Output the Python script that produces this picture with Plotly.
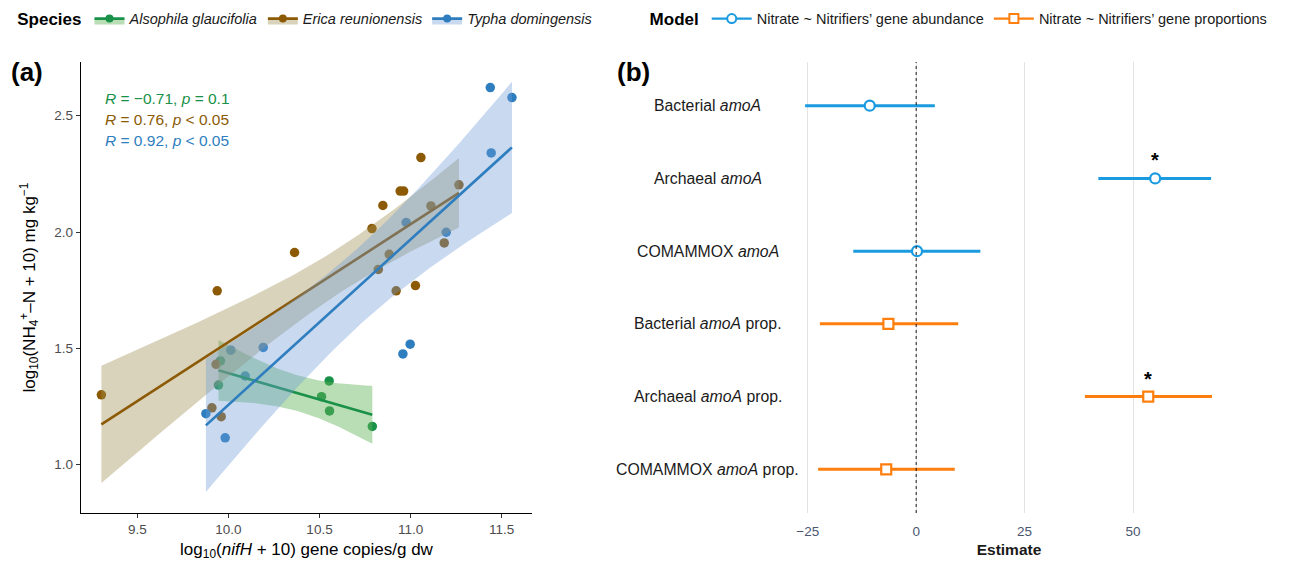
import math
import numpy as np
import plotly.graph_objects as go

FONT = "Liberation Sans, Arial, Helvetica, sans-serif"

# ---------------- Panel (a) data ----------------
species = ["Alsophila glaucifolia", "Erica reunionensis", "Typha domingensis"]
als_x = [9.956, 9.945, 10.511, 10.553, 10.555, 10.790]
als_y = [1.446, 1.342, 1.292, 1.360, 1.231, 1.164]
eri_x = [9.302, 9.909, 9.932, 9.938, 9.960, 10.363, 10.788, 10.823, 10.848,
         10.883, 10.921, 10.943, 10.962, 11.027, 11.057, 11.112, 11.185, 11.266]
eri_y = [1.300, 1.244, 1.431, 1.747, 1.206, 1.912, 2.015, 1.839, 2.114,
         1.904, 1.747, 2.176, 2.176, 1.770, 2.320, 2.112, 1.953, 2.203]
typ_x = [9.876, 9.982, 10.013, 10.092, 10.191, 10.976, 11.196, 10.958, 10.998,
         11.443, 11.438, 11.557]
typ_y = [1.219, 1.115, 1.492, 1.381, 1.504, 2.041, 1.999, 1.476, 1.518,
         2.340, 2.621, 2.578]
r_labels = ["<i>R</i> = \u22120.71, <i>p</i> = 0.1",
            "<i>R</i> = 0.76, <i>p</i> &lt; 0.05",
            "<i>R</i> = 0.92, <i>p</i> &lt; 0.05"]
x_ticks_a = [9.5, 10.0, 10.5, 11.0, 11.5]
y_ticks_a = [1.0, 1.5, 2.0, 2.5]

# ---------------- Panel (b) data ----------------
terms = ["Bacterial amoA", "Archaeal amoA", "COMAMMOX amoA",
         "Bacterial amoA prop.", "Archaeal amoA prop.", "COMAMMOX amoA prop."]
term_labels = ["Bacterial <i>amoA</i>", "Archaeal <i>amoA</i>", "COMAMMOX <i>amoA</i>",
               "Bacterial <i>amoA</i> prop.", "Archaeal <i>amoA</i> prop.",
               "COMAMMOX <i>amoA</i> prop."]
models = ["Nitrate ~ Nitrifiers\u2019 gene abundance", "Nitrate ~ Nitrifiers\u2019 gene proportions"]
abund_est = [-10.7, 55.1, 0.2]
abund_lo = [-25.6, 42.0, -14.5]
abund_hi = [4.3, 68.0, 14.8]
abund_sig = [False, True, False]
prop_est = [-6.4, 53.5, -6.9]
prop_lo = [-22.2, 38.9, -22.6]
prop_hi = [9.7, 68.2, 8.9]
prop_sig = [False, True, False]
x_ticks_b = [-25, 0, 25, 50]

# ---------------- styles ----------------
COLS = ["#199148", "#8c5a05", "#2e7ebf"]
FILLS = ["rgba(100,180,90,0.45)", "rgba(160,145,85,0.40)", "rgba(110,155,215,0.38)"]
BLUE_B = "#1a9be0"
ORANGE_B = "#ff7f0e"


def t_quantile(p, df):
    const = math.exp(math.lgamma((df + 1) / 2) - math.lgamma(df / 2)) / math.sqrt(df * math.pi)

    def cdf(t):
        xs = np.linspace(0, t, 20001)
        pdf = const * (1 + xs ** 2 / df) ** (-(df + 1) / 2)
        return 0.5 + np.trapezoid(pdf, xs)

    lo, hi = 0.0, 50.0
    for _ in range(60):
        mid = (lo + hi) / 2
        if cdf(mid) < p:
            lo = mid
        else:
            hi = mid
    return (lo + hi) / 2


def lm_band(x, y, npts=80):
    x = np.asarray(x, float)
    y = np.asarray(y, float)
    n = len(x)
    b, a = np.polyfit(x, y, 1)
    resid = y - (a + b * x)
    s = math.sqrt(np.sum(resid ** 2) / (n - 2))
    sxx = np.sum((x - x.mean()) ** 2)
    xs = np.linspace(x.min(), x.max(), npts)
    yh = a + b * xs
    se = s * np.sqrt(1 / n + (xs - x.mean()) ** 2 / sxx)
    t = t_quantile(0.975, n - 2)
    return xs, yh, yh - t * se, yh + t * se


groups = [(als_x, als_y), (eri_x, eri_y), (typ_x, typ_y)]

fig = go.Figure()

# points first (ribbons drawn over them)
for (gx, gy), c in zip(groups, COLS):
    fig.add_trace(go.Scatter(x=gx, y=gy, mode="markers",
                             marker=dict(color=c, size=9.5, line=dict(width=0)),
                             showlegend=False, hoverinfo="skip", xaxis="x", yaxis="y"))

# ribbon + line per group
for (gx, gy), c, f in zip(groups, COLS, FILLS):
    xs, yh, lo, hi = lm_band(gx, gy)
    fig.add_trace(go.Scatter(x=np.concatenate([xs, xs[::-1]]),
                             y=np.concatenate([hi, lo[::-1]]),
                             mode="lines", fill="toself", fillcolor=f,
                             line=dict(width=0), showlegend=False, hoverinfo="skip",
                             xaxis="x", yaxis="y"))
    fig.add_trace(go.Scatter(x=xs, y=yh, mode="lines", line=dict(color=c, width=2.6),
                             showlegend=False, hoverinfo="skip", xaxis="x", yaxis="y"))

# legend entries for species
for name, c, f in zip(species, COLS, FILLS):
    fig.add_trace(go.Scatter(x=[None], y=[None], mode="lines+markers",
                             fill="toself", fillcolor=f,
                             line=dict(color=c, width=2.6),
                             marker=dict(color=c, size=8),
                             name="<i>" + name + "</i>", legend="legend",
                             xaxis="x", yaxis="y"))

# ---------------- Panel (b) traces ----------------
specs = [
    (terms[:3], abund_est, abund_lo, abund_hi, BLUE_B, "circle", models[0]),
    (terms[3:], prop_est, prop_lo, prop_hi, ORANGE_B, "square", models[1]),
]
for cats, est, lo, hi, c, sym, mname in specs:
    fig.add_trace(go.Scatter(
        x=est, y=cats, mode="markers",
        marker=dict(symbol=sym, size=10, color="white", line=dict(color=c, width=2.2)),
        error_x=dict(type="data", symmetric=False,
                     array=[h - e for h, e in zip(hi, est)],
                     arrayminus=[e - l for e, l in zip(est, lo)],
                     color=c, thickness=3, width=0),
        showlegend=False, hoverinfo="skip", xaxis="x2", yaxis="y2"))
    fig.add_trace(go.Scatter(x=[None], y=[None], mode="lines+markers",
                             line=dict(color=c, width=2.2),
                             marker=dict(symbol=sym, size=9, color="white",
                                         line=dict(color=c, width=2)),
                             name=mname, legend="legend2", xaxis="x2", yaxis="y2"))

annotations = []
# significance stars
for cats, est, sig in [(terms[:3], abund_est, abund_sig), (terms[3:], prop_est, prop_sig)]:
    for cat, e, s in zip(cats, est, sig):
        if s:
            annotations.append(dict(x=e, y=cat, xref="x2", yref="y2", text="<b>*</b>",
                                    showarrow=False, yshift=18,
                                    font=dict(size=20, color="black", family=FONT)))
# category labels (centred like the original)
for cat, lab in zip(terms, term_labels):
    annotations.append(dict(x=0.5433, xref="paper", y=cat, yref="y2", text=lab,
                            showarrow=False, xanchor="center",
                            font=dict(size=15.8, color="#1a1a1a", family=FONT)))
# correlation labels
for i, (lab, c) in enumerate(zip(r_labels, COLS)):
    annotations.append(dict(x=0.048, xref="x domain", y=0.918 - i * 0.0465, yref="y domain",
                            text=lab, showarrow=False, xanchor="left", yanchor="middle",
                            font=dict(size=15.5, color=c, family=FONT)))
# panel tags
annotations.append(dict(x=-0.062, xref="paper", y=0.978, yref="paper", text="<b>(a)</b>",
                        showarrow=False, xanchor="left", yanchor="middle",
                        font=dict(size=26, color="black", family=FONT)))
annotations.append(dict(x=0.4627, xref="paper", y=0.978, yref="paper", text="<b>(b)</b>",
                        showarrow=False, xanchor="left", yanchor="middle",
                        font=dict(size=26, color="black", family=FONT)))

shapes = [dict(type="line", xref="x2", x0=0, x1=0, yref="y2 domain", y0=0, y1=1,
               line=dict(color="black", width=0.9, dash="3px,3px"), layer="above")]

fig.update_layout(
    width=1295, height=565,
    margin=dict(l=81, r=60, t=62, b=52, autoexpand=False),
    plot_bgcolor="white", paper_bgcolor="white",
    font=dict(family=FONT, color="#1a1a1a"),
    annotations=annotations, shapes=shapes,
    xaxis=dict(domain=[0, 0.3908], range=[9.19, 11.667], tickvals=x_ticks_a,
               tickformat=".1f", showline=True, linecolor="black", linewidth=1.3,
               ticks="outside", ticklen=4, tickcolor="#333", tickwidth=1,
               tickfont=dict(size=13.5, color="#4d4d4d"), showgrid=False, zeroline=False,
               automargin=False,
               title=dict(text="log<sub>10</sub>(<i>nifH</i> + 10) gene copies/g dw",
                          font=dict(size=17, color="black"), standoff=6)),
    yaxis=dict(domain=[0, 1], range=[0.792, 2.731], tickvals=y_ticks_a, tickformat=".1f",
               showline=True, linecolor="black", linewidth=1.3,
               ticks="outside", ticklen=4, tickcolor="#333", tickwidth=1,
               tickfont=dict(size=13.5, color="#4d4d4d"), showgrid=False, zeroline=False,
               automargin=False,
               title=dict(text="log<sub>10</sub>(NH<sub>4</sub><sup>+</sup>\u2013N + 10) mg kg<sup>\u22121</sup>",
                          font=dict(size=17, color="black"), standoff=14)),
    xaxis2=dict(domain=[0.6083, 1], anchor="y2", range=[-30.7, 73.5], tickvals=x_ticks_b,
                showline=False, ticks="", showgrid=True, gridcolor="#e3e3e3", gridwidth=1.2,
                zeroline=False, tickfont=dict(size=13.5, color="#4a5670"),
                ticklabelstandoff=8, automargin=False,
                title=dict(text="<b>Estimate</b>", font=dict(size=15.5, color="#1a1a1a"),
                           standoff=6)),
    yaxis2=dict(domain=[0, 1], anchor="x2", type="category", categoryorder="array",
                categoryarray=terms, range=[5.6, -0.6], showticklabels=False,
                showgrid=False, zeroline=False, showline=False, ticks="", automargin=False),
    legend=dict(orientation="h", x=-0.057, xanchor="left", y=1.095, yanchor="middle",
                title=dict(text="<b>Species</b>", font=dict(size=17, color="black")),
                font=dict(size=14.5, color="#1a1a1a"), itemwidth=30,
                bgcolor="rgba(0,0,0,0)", tracegroupgap=0),
    legend2=dict(orientation="h", x=0.491, xanchor="left", y=1.095, yanchor="middle",
                 title=dict(text="<b>Model</b>", font=dict(size=17, color="black")),
                 font=dict(size=14.5, color="#1a1a1a"), itemwidth=40,
                 bgcolor="rgba(0,0,0,0)"),
)

fig.write_html("out.html")
